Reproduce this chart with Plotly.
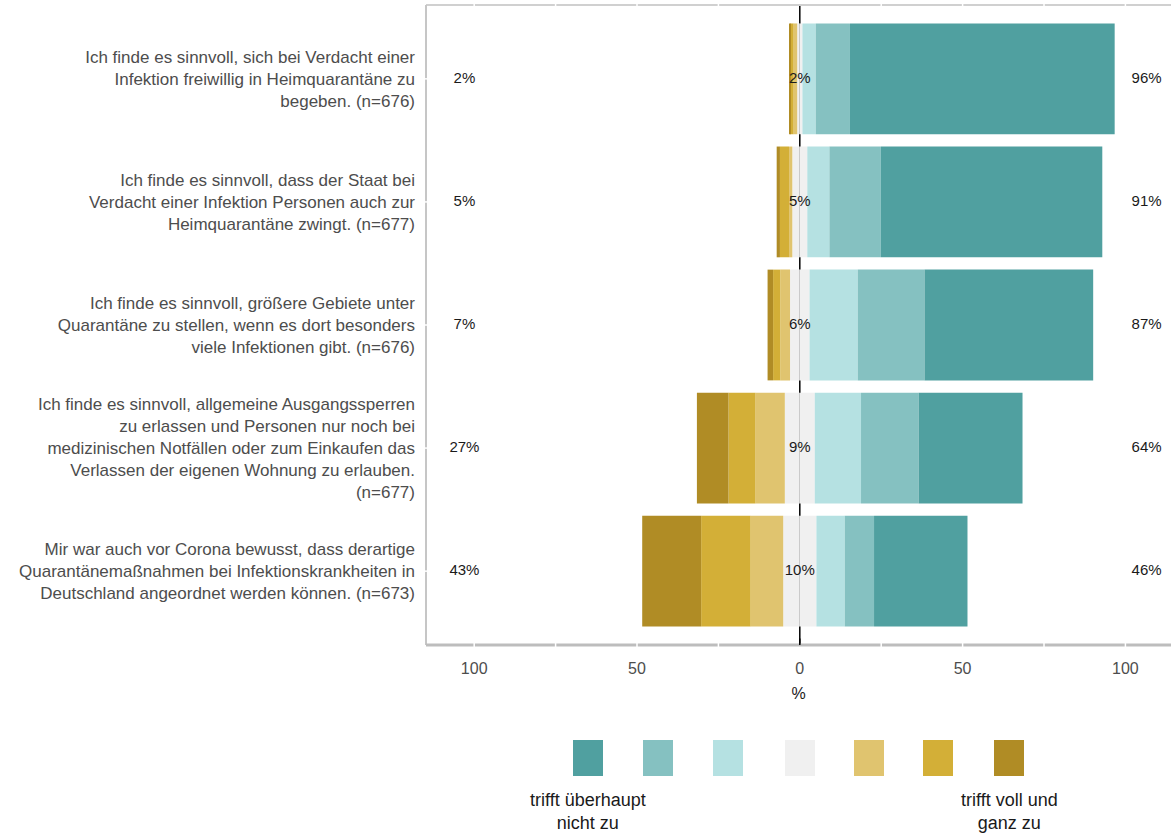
import plotly.graph_objects as go

# ── data ──────────────────────────────────────────────────────────────────────
ITEMS = [
    "Ich finde es sinnvoll, sich bei Verdacht einer<br>Infektion freiwillig in Heimquarantäne zu<br>begeben. (n=676)",
    "Ich finde es sinnvoll, dass der Staat bei<br>Verdacht einer Infektion Personen auch zur<br>Heimquarantäne zwingt. (n=677)",
    "Ich finde es sinnvoll, größere Gebiete unter<br>Quarantäne zu stellen, wenn es dort besonders<br>viele Infektionen gibt. (n=676)",
    "Ich finde es sinnvoll, allgemeine Ausgangssperren<br>zu erlassen und Personen nur noch bei<br>medizinischen Notfällen oder zum Einkaufen das<br>Verlassen der eigenen Wohnung zu erlauben.<br>(n=677)",
    "Mir war auch vor Corona bewusst, dass derartige<br>Quarantänemaßnahmen bei Infektionskrankheiten in<br>Deutschland angeordnet werden können. (n=673)",
]

# shares in % per answer level (left side = gold, right side = teal)
gold_dark  = [0.3, 1.0, 1.7, 9.7, 18.1]
gold_mid   = [1.0, 2.8, 2.2, 8.3, 15.2]
gold_light = [1.1, 1.0, 3.0, 9.0, 10.0]
neutral    = [1.6, 4.6, 6.0, 9.2, 10.2]
teal_light = [4.1, 6.8, 14.8, 14.2, 8.7]
teal_mid   = [10.5, 15.8, 20.5, 17.7, 9.0]
teal_dark  = [81.3, 68.0, 51.8, 31.9, 28.7]

LEGEND_COLORS = ["#50A0A0", "#85C1C1", "#B5E1E2", "#F0F0F0", "#E0C46F", "#D3AF37", "#B08C25"]
LEGEND_LOW  = "trifft überhaupt<br>nicht zu"
LEGEND_HIGH = "trifft voll und<br>ganz zu"

X_TICKS = [-100, -50, 0, 50, 100]

FONT = "Liberation Sans, Arial, sans-serif"
GREY_TXT = "#4D4D4D"
BORDER = "#C6C6C6"

# ── figure ────────────────────────────────────────────────────────────────────
W, H = 1171, 836
M_L, M_R, M_T, M_B = 426, 0, 5, 191
X_RANGE = [-114.8, 114.0]

fig = go.Figure()

half_neutral = [n / 2 for n in neutral]
left_total  = [a + b + c for a, b, c in zip(gold_dark, gold_mid, gold_light)]
right_total = [a + b + c for a, b, c in zip(teal_light, teal_mid, teal_dark)]

c_td, c_tm, c_tl, c_n, c_gl, c_gm, c_gd = LEGEND_COLORS

# negative side stacks outward in trace order
left_layers = [(half_neutral, c_n), (gold_light, c_gl), (gold_mid, c_gm), (gold_dark, c_gd)]
right_layers = [(half_neutral, c_n), (teal_light, c_tl), (teal_mid, c_tm), (teal_dark, c_td)]

for vals, col in left_layers:
    fig.add_trace(go.Bar(
        y=ITEMS, x=[-v for v in vals], orientation="h",
        marker=dict(color=col, line=dict(width=0)), width=0.9,
        showlegend=False, hoverinfo="skip",
    ))
for vals, col in right_layers:
    fig.add_trace(go.Bar(
        y=ITEMS, x=vals, orientation="h",
        marker=dict(color=col, line=dict(width=0)), width=0.9,
        showlegend=False, hoverinfo="skip",
    ))

# percentage labels: left total, neutral, right total
lbl_font = dict(family=FONT, size=15, color="#1a1a1a")
for xpos, vals in [(-103.0, left_total), (0, neutral), (106.5, right_total)]:
    fig.add_trace(go.Scatter(
        y=ITEMS, x=[xpos] * len(ITEMS), mode="text",
        text=[f"{round(v)}%" for v in vals],
        textfont=lbl_font, textposition="middle center",
        showlegend=False, hoverinfo="skip",
    ))

shapes = []
# zero line behind bars
shapes.append(dict(type="line", xref="x", yref="paper", x0=0, x1=0, y0=0, y1=1,
                   line=dict(color="black", width=1.5), layer="below"))
# panel border
shapes.append(dict(type="line", xref="paper", yref="paper", x0=0, x1=1, y0=1, y1=1,
                   line=dict(color="#D0D0D0", width=2), layer="above"))
shapes.append(dict(type="line", xref="paper", yref="paper", x0=0, x1=0, y0=0, y1=1,
                   line=dict(color=BORDER, width=2), layer="above"))
shapes.append(dict(type="line", xref="paper", yref="paper", x0=0, x1=1, y0=0, y1=0,
                   line=dict(color="#BDBDBD", width=3), layer="above"))
# white notches where grid lines cross the border
for gx in range(-100, 101, 25):
    if gx == 0:
        continue
    for yy in (0, 1):
        shapes.append(dict(type="line", xref="x", yref="paper", x0=gx, x1=gx,
                           y0=yy - 0.006, y1=yy + 0.006,
                           line=dict(color="white", width=1.5), layer="above"))
for it in ITEMS:
    shapes.append(dict(type="line", xref="paper", yref="y", x0=-0.004, x1=0.004,
                       y0=it, y1=it, line=dict(color="white", width=1.5), layer="above"))
# zero line over bottom border
shapes.append(dict(type="line", xref="x", yref="paper", x0=0, x1=0, y0=0, y1=0.01,
                   line=dict(color="black", width=1.5), layer="above"))

# manual legend (pixel positions converted to paper coords)
pw = W - M_L - M_R
ph = H - M_T - M_B


def px_x(px):
    return (px - M_L) / pw


def px_y(py):
    return (H - M_B - py) / ph


leg_centers = [588, 658, 728, 800, 869, 938, 1009]
for cx, col in zip(leg_centers, LEGEND_COLORS):
    shapes.append(dict(type="rect", xref="paper", yref="paper",
                       x0=px_x(cx - 15), x1=px_x(cx + 15),
                       y0=px_y(776), y1=px_y(740),
                       fillcolor=col, line=dict(width=0), layer="above"))

annotations = [
    dict(text=LEGEND_LOW, xref="paper", yref="paper", x=px_x(leg_centers[0]), y=px_y(788),
         xanchor="center", yanchor="top", showarrow=False, align="center",
         font=dict(family=FONT, size=18, color="#1a1a1a")),
    dict(text=LEGEND_HIGH, xref="paper", yref="paper", x=px_x(leg_centers[-1]), y=px_y(788),
         xanchor="center", yanchor="top", showarrow=False, align="center",
         font=dict(family=FONT, size=18, color="#1a1a1a")),
]

fig.update_layout(
    width=W, height=H,
    barmode="relative",
    plot_bgcolor="white", paper_bgcolor="white",
    margin=dict(l=M_L, r=M_R, t=M_T, b=M_B, pad=0),
    font=dict(family=FONT, color=GREY_TXT),
    shapes=shapes, annotations=annotations,
    showlegend=False,
)
fig.update_xaxes(
    range=X_RANGE, showgrid=False, zeroline=False, showline=False,
    tickvals=X_TICKS, ticktext=[str(abs(v)) for v in X_TICKS],
    tickfont=dict(family=FONT, size=16, color=GREY_TXT),
    ticks="", ticklabelstandoff=12,
    title=dict(text="%", font=dict(family=FONT, size=16, color="#1a1a1a"), standoff=11),
)
fig.update_yaxes(
    categoryorder="array", categoryarray=ITEMS, autorange=False, range=[4.6, -0.6],
    showgrid=False, zeroline=False, showline=False,
    tickfont=dict(family=FONT, size=17, color=GREY_TXT),
    ticks="", ticklabelstandoff=10,
)

fig.write_html("out.html", config={"displayModeBar": False},
               post_script="document.body.style.margin='0px';")
